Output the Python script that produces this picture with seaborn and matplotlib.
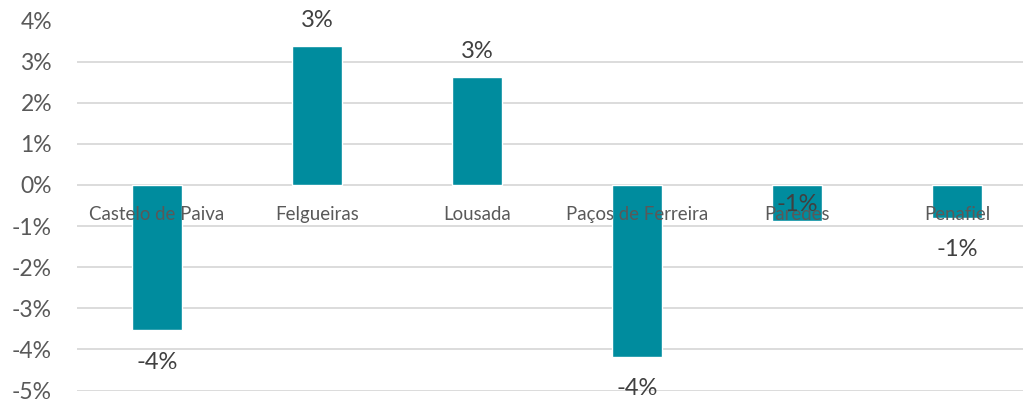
import seaborn as sns
import matplotlib.pyplot as plt
import pandas as pd

concelhos = ['Castelo de Paiva', 'Felgueiras', 'Lousada', 'Paços de Ferreira', 'Paredes', 'Penafiel']
variacao = [-0.0353, 0.0338, 0.0263, -0.0418, -0.0088, -0.0080]
# deslocamento vertical (pontos) de cada rótulo de valor
desloc_rotulo = [-23, 10.5, 10.5, -23, 12, -23]
y_ticks = [0.04, 0.03, 0.02, 0.01, 0.0, -0.01, -0.02, -0.03, -0.04, -0.05]

df = pd.DataFrame({'Concelho': concelhos, 'Variacao': variacao})

sns.set_style('white')
plt.rcParams['font.family'] = ['Lato', 'DejaVu Sans']

cinza = '#595959'
fig = plt.figure(figsize=(10.23, 4.01), dpi=100)
ax = fig.add_axes([77 / 1023, 1 - 390.5 / 401, 960 / 1023, 370 / 401])

sns.barplot(data=df, x='Concelho', y='Variacao', color='#008C9E', width=0.31,
            saturation=1, ax=ax, zorder=2)

ax.set_ylim(-0.05, 0.04)
ax.set_xlim(-0.5, len(concelhos) - 0.5)
ax.set_yticks(y_ticks)
ax.set_yticklabels([f'{v:.0%}' for v in y_ticks], fontsize=16.5, color=cinza)
ax.grid(axis='y', color='#D9D9D9', linewidth=1.3, zorder=0)
ax.tick_params(axis='y', length=0, pad=18)
ax.set_xticks([])
ax.set_xlabel('')
ax.set_ylabel('')
for s in ax.spines.values():
    s.set_visible(False)

# nomes dos concelhos junto ao eixo (por cima das barras)
for i, nome in enumerate(concelhos):
    ax.annotate(nome, (i, 0), xytext=(0, -21), textcoords='offset points',
                ha='center', va='center', fontsize=13.4, color=cinza, zorder=3)

# rótulos de valor
for i, v in enumerate(variacao):
    dy = desloc_rotulo[i]
    ax.annotate(f'{round(v * 100):.0f}%', (i, v), xytext=(0, dy),
                textcoords='offset points', ha='center',
                va='bottom' if dy > 0 and v > 0 else 'center',
                fontsize=17, color='#404040', zorder=4)

plt.savefig('out.png', dpi=100)
